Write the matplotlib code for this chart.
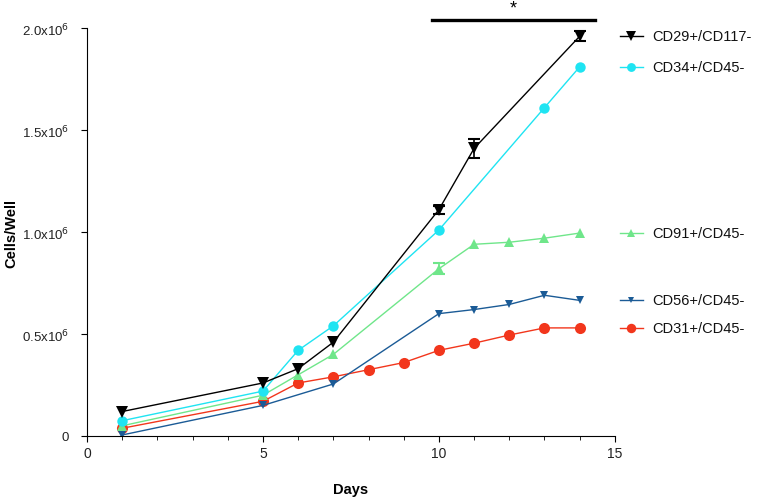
import numpy as np
import matplotlib
matplotlib.use("Agg")
import matplotlib.pyplot as plt
from matplotlib.ticker import MultipleLocator, FuncFormatter

plt.rcParams['font.family'] = ['Liberation Sans', 'DejaVu Sans']

# cell counts in units of 1e6 cells/well
days_cd29 = [1, 5, 6, 7, 10, 11, 14]
cd29 = [0.12, 0.26, 0.33, 0.46, 1.11, 1.41, 1.96]
cd29_err = [0, 0, 0, 0, 0.02, 0.045, 0.024]

days_cd34 = [1, 5, 6, 7, 10, 13, 14]
cd34 = [0.075, 0.22, 0.42, 0.54, 1.01, 1.61, 1.81]

days_cd91 = [1, 5, 6, 7, 10, 11, 12, 13, 14]
cd91 = [0.05, 0.20, 0.30, 0.40, 0.82, 0.94, 0.95, 0.97, 0.995]
cd91_err = [0, 0, 0, 0, 0.027, 0, 0, 0, 0]

days_cd56 = [1, 5, 7, 10, 11, 12, 13, 14]
cd56 = [0.005, 0.15, 0.255, 0.60, 0.62, 0.645, 0.69, 0.665]

days_cd31 = [1, 5, 6, 7, 8, 9, 10, 11, 12, 13, 14]
cd31 = [0.038, 0.17, 0.26, 0.29, 0.325, 0.36, 0.42, 0.455, 0.495, 0.53, 0.53]

sig_start, sig_end = 9.8, 14.45

series = [
    ('CD29+/CD117-', days_cd29, cd29, cd29_err, 'black', 'v', 8.5),
    ('CD34+/CD45-', days_cd34, cd34, None, '#1fe4f2', 'o', 7.5),
    ('CD91+/CD45-', days_cd91, cd91, cd91_err, '#6fe68a', '^', 7.5),
    ('CD56+/CD45-', days_cd56, cd56, None, '#1b5b96', 'v', 5.5),
    ('CD31+/CD45-', days_cd31, cd31, None, '#f2361c', 'o', 8),
]

fig = plt.figure(figsize=(7.6, 5.02), dpi=100)
ax = fig.add_axes([0.1145, 0.1295, 0.6945, 0.8125])

for label, x, y, err, color, marker, ms in reversed(series):
    x = np.array(x)
    y = np.array(y) * 1e6
    ax.plot(x, y, color=color, lw=1, marker=marker, ms=ms, markeredgewidth=0)
    if err is not None:
        e = np.array(err) * 1e6
        m = e > 0
        ax.errorbar(x[m], y[m], yerr=e[m], fmt='none', ecolor=color,
                    elinewidth=1.2, capsize=4, capthick=1.5)
    # right-side label at last value
    ly = y[-1]
    ax.plot([15.15, 15.8], [ly, ly], color=color, lw=1, clip_on=False)
    ax.plot([15.47], [ly], color=color, marker=marker, ms=ms * 0.85,
            markeredgewidth=0, clip_on=False)
    ax.text(16.05, ly, label, va='center', ha='left', fontsize=10.5, color='#111111')

# significance bar
ax.plot([sig_start, sig_end], [2.04e6, 2.04e6], color='black', lw=2.4, clip_on=False)
ax.text((sig_start + sig_end) / 2, 2.1e6, '*', ha='center', va='center', fontsize=13)

ax.set_xlim(0, 15)
ax.set_ylim(0, 2.0e6)
ax.xaxis.set_major_locator(MultipleLocator(5))
ax.xaxis.set_minor_locator(MultipleLocator(1))
ax.yaxis.set_major_locator(MultipleLocator(0.5e6))


def yfmt(v, pos):
    if v == 0:
        return '0'
    return r'%.1fx10$^{6}$' % (v / 1e6)


ax.yaxis.set_major_formatter(FuncFormatter(yfmt))
ax.spines['top'].set_visible(False)
ax.spines['right'].set_visible(False)
ax.tick_params(axis='x', which='major', length=4, labelsize=10, direction='out',
               labelcolor='#222222')
ax.tick_params(axis='y', which='major', length=4, labelsize=9.5, direction='out',
               labelcolor='#222222', pad=9)
ax.tick_params(axis='x', which='minor', length=3, direction='out')

fig.text(351 / 760, 1 - 490 / 502, 'Days', ha='center', va='center',
         fontsize=10.5, fontweight='bold')
fig.text(11 / 760, 1 - 233 / 502, 'Cells/Well', ha='center', va='center',
         rotation=90, fontsize=10.5, fontweight='bold')

fig.savefig('out.png', dpi=100)
